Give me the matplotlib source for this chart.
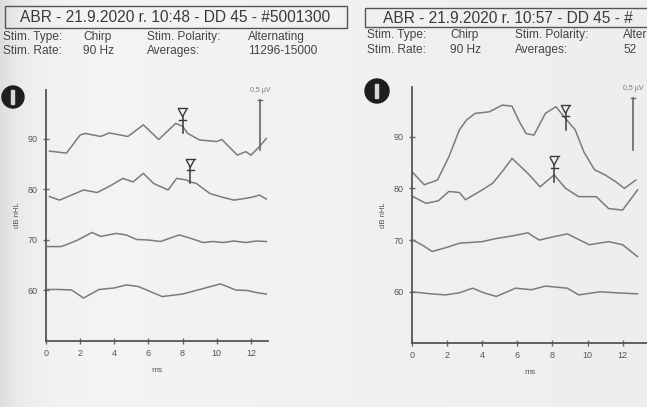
import numpy as np
import matplotlib.pyplot as plt
from matplotlib.patches import Rectangle, Circle

W, H = 647, 407

# ---- left recording (10:48) : time [ms], trace level [dB nHL axis units]
left_t90 = [0.2, 1.2, 2.0, 2.3, 3.2, 3.7, 4.8, 5.7, 6.6, 7.6, 8.0, 8.3, 9.0, 10.0, 10.3, 11.2, 11.7, 12.0, 12.5, 12.9]
left_y90 = [87.6, 87.2, 90.8, 91.1, 90.5, 91.2, 90.5, 92.8, 89.9, 93.1, 92.5, 91.1, 89.8, 89.5, 89.9, 86.8, 87.5, 86.8, 88.5, 90.1]
left_t80 = [0.2, 0.8, 1.5, 2.2, 3.0, 3.8, 4.5, 5.1, 5.7, 6.3, 7.15, 7.65, 8.2, 8.45, 8.8, 9.6, 10.3, 11.0, 11.6, 12.1, 12.5, 12.9]
left_y80 = [78.6, 77.9, 78.9, 79.9, 79.4, 80.8, 82.2, 81.5, 83.2, 81.2, 79.9, 82.2, 81.9, 81.5, 81.2, 79.2, 78.5, 77.9, 78.2, 78.5, 78.9, 78.1]
left_t70 = [0.1, 0.9, 1.8, 2.7, 3.2, 4.1, 4.7, 5.3, 6.0, 6.7, 7.8, 8.5, 9.2, 9.8, 10.4, 11.0, 11.7, 12.3, 12.9]
left_y70 = [68.7, 68.7, 69.9, 71.5, 70.7, 71.3, 71.0, 70.1, 70.0, 69.7, 71.0, 70.3, 69.5, 69.7, 69.5, 69.8, 69.5, 69.8, 69.7]
left_t60 = [0.0, 0.8, 1.5, 2.2, 3.1, 4.0, 4.7, 5.4, 6.1, 6.8, 8.0, 9.0, 10.2, 10.6, 11.1, 11.8, 12.3, 12.9]
left_y60 = [60.2, 60.2, 60.1, 58.5, 60.2, 60.5, 61.1, 60.8, 59.8, 58.8, 59.3, 60.2, 61.3, 60.8, 60.1, 60.0, 59.6, 59.3]
left_peak_t = [8.0, 8.45]
left_peak_y = [93.8, 83.8]

# ---- right recording (10:57)
right_t90 = [0.0, 0.7, 1.45, 2.1, 2.7, 3.1, 3.6, 4.4, 5.15, 5.7, 6.1, 6.5, 6.95, 7.6, 8.2, 8.75, 9.3, 9.8, 10.4, 11.0, 11.6, 12.1, 12.75]
right_y90 = [83.2, 80.7, 81.6, 86.1, 91.3, 93.2, 94.5, 94.8, 96.1, 95.9, 93.0, 90.6, 90.3, 94.5, 95.8, 93.5, 91.3, 87.0, 83.6, 82.6, 81.3, 80.0, 81.6]
right_t80 = [0.0, 0.8, 1.5, 2.1, 2.7, 3.05, 4.0, 4.6, 5.2, 5.7, 6.6, 7.3, 8.1, 8.75, 9.5, 10.5, 11.2, 12.0, 12.85]
right_y80 = [78.5, 77.1, 77.6, 79.4, 79.2, 77.8, 79.7, 81.0, 83.5, 85.8, 82.9, 80.3, 82.6, 80.0, 78.4, 78.4, 76.1, 75.8, 79.7]
right_t70 = [0.0, 0.6, 1.15, 2.0, 2.7, 4.0, 4.8, 5.7, 6.6, 7.25, 8.0, 8.85, 10.1, 11.2, 12.0, 12.85]
right_y70 = [70.1, 69.0, 67.8, 68.6, 69.4, 69.7, 70.3, 70.8, 71.4, 70.0, 70.6, 71.2, 69.1, 69.7, 69.1, 66.8]
right_t60 = [0.0, 1.1, 1.9, 2.7, 3.45, 4.1, 4.8, 5.9, 6.8, 7.6, 8.85, 9.5, 10.7, 11.7, 12.85]
right_y60 = [60.0, 59.6, 59.4, 59.8, 60.7, 59.8, 59.1, 60.7, 60.4, 61.1, 60.7, 59.4, 60.0, 59.8, 59.6]
right_peak_t = [8.75, 8.1]
right_peak_y = [93.9, 83.9]

levels = [60, 70, 80, 90]
time_ticks = [0, 2, 4, 6, 8, 10, 12]
left_scale = (12.53, 87.8, 97.7)
right_scale = (12.6, 87.4, 97.5)

FONT = ['Liberation Sans', 'DejaVu Sans']
TRACE = '#7b7b7b'
INK = '#3a3a3a'

fig = plt.figure(figsize=(W / 100, H / 100), dpi=100)

# paper background in pixel coordinates
bg = fig.add_axes([0, 0, 1, 1])
bg.set_xlim(0, W)
bg.set_ylim(H, 0)
bg.axis('off')
xx = np.linspace(0, 1, 200)
shade = 0.955 - 0.09 * np.exp(-xx / 0.035) - 0.025 * xx
shade = np.tile(shade, (60, 1))
bg.imshow(shade, extent=[0, W, H, 0], cmap='gray', vmin=0, vmax=1, aspect='auto')


def header(x_box, x_txt, y_box, title, rows, cols):
    bg.add_patch(Rectangle((x_box[0], y_box[0]), x_box[1] - x_box[0], y_box[1] - y_box[0],
                           fill=False, ec='#555555', lw=1.0))
    bg.text(x_txt, (y_box[0] + y_box[1]) / 2 + 1, title, fontsize=11.2, family=FONT,
            color=INK, va='center', ha='left')
    for row_y, row in rows:
        for cx, s in zip(cols, row):
            bg.text(cx, row_y, s, fontsize=8.6, family=FONT, color='#444444', va='center', ha='left')


header((5, 347), 20, (6, 28), 'ABR - 21.9.2020 r. 10:48 - DD 45 - #5001300',
       [(37, ['Stim. Type:', 'Chirp', 'Stim. Polarity:', 'Alternating']),
        (51, ['Stim. Rate:', '90 Hz', 'Averages:', '11296-15000'])],
       [3, 83, 147, 248])
header((365, 660), 383, (8, 27), 'ABR - 21.9.2020 r. 10:57 - DD 45 - #',
       [(35, ['Stim. Type:', 'Chirp', 'Stim. Polarity:', 'Alternating']),
        (50, ['Stim. Rate:', '90 Hz', 'Averages:', '52'])],
       [367, 450, 515, 623])

# ear icons
for cx, cy, r in [(13, 97, 11), (377, 91, 12)]:
    bg.add_patch(Circle((cx, cy), r, color='#1e1e1e'))
    bg.add_patch(Rectangle((cx - 2, cy - r * 0.6), 3, r * 1.2, color='#d8d8d8'))


def panel(x0, x1, y0, y1, xmax, ylim):
    ax = fig.add_axes([x0 / W, 1 - y1 / H, (x1 - x0) / W, (y1 - y0) / H])
    ax.patch.set_alpha(0)
    ax.set_xlim(0, xmax)
    ax.set_ylim(*ylim)
    for s in ['top', 'right']:
        ax.spines[s].set_visible(False)
    for s in ['left', 'bottom']:
        ax.spines[s].set_color('#555555')
        ax.spines[s].set_linewidth(1.3)
    ax.set_xticks(time_ticks)
    ax.set_yticks(levels)
    ax.tick_params(direction='inout', length=4, width=1, color='#666666',
                   labelsize=6.5, labelcolor='#555555', pad=4)
    for lab in ax.get_xticklabels() + ax.get_yticklabels():
        lab.set_family(FONT)
    ax.set_xlabel('ms', fontsize=6, color='#555555', family=FONT, labelpad=6)
    ax.set_ylabel('dB nHL', fontsize=5.5, color='#555555', family=FONT, labelpad=5)
    return ax


def draw(ax, traces, peak_t, peak_y, scale):
    for t, y in traces:
        ax.plot(t, y, color=TRACE, lw=1.1, solid_joinstyle='round')
    for t, y in zip(peak_t, peak_y):
        ax.plot([t, t], [y - 2.6, y + 0.6], color=INK, lw=1.1)
        ax.plot([t - 0.2, t + 0.2], [y, y], color=INK, lw=1.0)
        ax.plot([t - 0.22, t, t + 0.22], [y + 2.0, y + 0.6, y + 2.0], color=INK, lw=1.0)
        ax.plot([t - 0.25, t + 0.25], [y + 2.3, y + 2.3], color=INK, lw=1.0)
    sx, sy0, sy1 = scale
    ax.plot([sx, sx], [sy0, sy1], color='#666666', lw=1.2, clip_on=False)
    ax.plot([sx - 0.12, sx + 0.12], [sy1, sy1], color='#666666', lw=1.0, clip_on=False)
    ax.text(sx, sy1 + 1.2, '0,5 µV', fontsize=5, color='#777777', family=FONT,
            ha='center', va='bottom', clip_on=False)


axl = panel(46, 268, 90, 341, 13.0, (50, 99.7))
draw(axl, [(left_t90, left_y90), (left_t80, left_y80), (left_t70, left_y70), (left_t60, left_y60)],
     left_peak_t, left_peak_y, left_scale)

axr = panel(412, 647, 87, 343, 13.39, (50.1, 99.6))
draw(axr, [(right_t90, right_y90), (right_t80, right_y80), (right_t70, right_y70), (right_t60, right_y60)],
     right_peak_t, right_peak_y, right_scale)

fig.savefig('out.png', dpi=100)
